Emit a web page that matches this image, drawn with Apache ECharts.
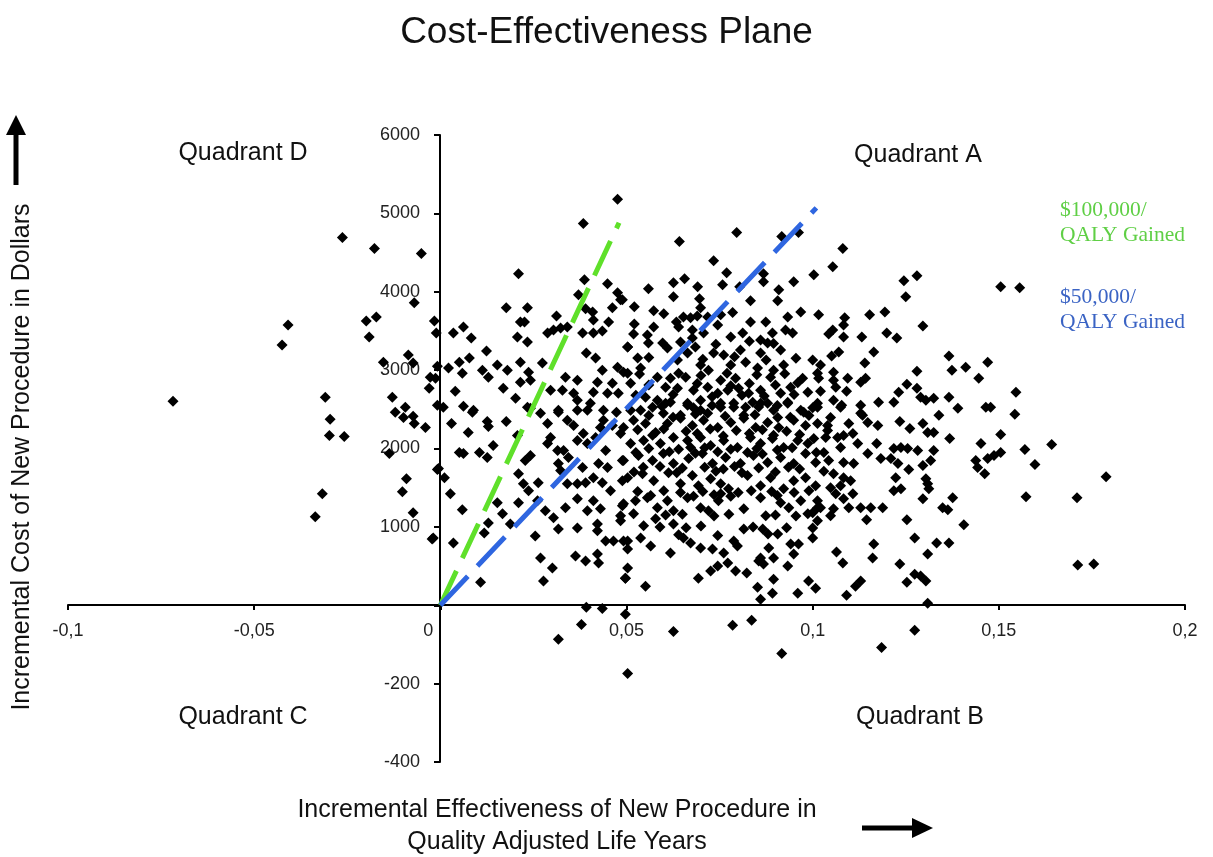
<!DOCTYPE html>
<html>
<head>
<meta charset="utf-8">
<script src="https://cdn.jsdelivr.net/npm/echarts@6/dist/echarts.min.js"></script>
<style>html,body{margin:0;padding:0;background:#fff}#c{width:1213px;height:857px}</style>
</head>
<body>
<div id="c"></div>
<script>
// x tick labels (comma decimal as in source)
const xTicks = [-0.1, -0.05, 0, 0.05, 0.1, 0.15, 0.2];
const yTickLabels = [6000, 5000, 4000, 3000, 2000, 1000, 0, -200, -400];

// Willingness-to-pay threshold lines [effect, cost]
const wtp100k = [[0, 0], [0.048, 4880]];
const wtp50k = [[0, 0], [0.101, 5070]];

// Simulation points [incremental effect (QALY), incremental cost ($)]
const pointsQuadD = [
[-0.0718,2603],[-0.0263,4692],[-0.0177,4551],[-0.0051,4487],[-0.0409,3577],[-0.0425,3320],[-0.0199,3628],[-0.0172,3679],[-0.0191,3423],[-0.0070,3859],[-0.0016,3628],[-0.0011,3474],[-0.0086,3192],[-0.0153,3102],[-0.0073,3090],[-0.0008,3051],[-0.0027,2910],[-0.0013,2897],[-0.0030,2769],[-0.0309,2654],[-0.0129,2654],[-0.0008,2551],[-0.0121,2461],[-0.0094,2526],[-0.0099,2397],[-0.0073,2410],[-0.0070,2320],[-0.0040,2269],[-0.0296,2372],[-0.0298,2167],[-0.0258,2154],[-0.0137,1936],[-0.0008,1731],[-0.0091,1615],[-0.0102,1449],[-0.0317,1423],[-0.0336,1128],[-0.0073,1179],[-0.0022,846],[-0.0005,1744],[-0.0019,859]
];
const pointsNearUpper = [
[0.0476,5179],[0.0384,4872],[0.0210,4231],[0.0387,4154],[0.0449,4102],[0.0371,3962],[0.0476,3987],[0.0484,3897],[0.0177,3795],[0.0234,3795],[0.0390,3782],[0.0409,3743],[0.0462,3795],[0.0312,3692],[0.0215,3615],[0.0226,3615],[0.0411,3641],[0.0452,3615],[0.0062,3551],[0.0288,3474],[0.0304,3513],[0.0323,3538],[0.0341,3551],[0.0382,3474],[0.0035,3474],[0.0083,3410],[0.0411,3474],[0.0435,3500],[0.0207,3423],[0.0234,3359],[0.0503,3295],[0.0124,3243],[0.0078,3154],[0.0051,3102],[0.0215,3102],[0.0274,3090],[0.0392,3218],[0.0417,3154],[0.0022,3026],[0.0113,3000],[0.0153,3064],[0.0180,3000],[0.0237,2974],[0.0435,3000],[0.0476,3038],[0.0492,2974],[0.0059,2961],[0.0129,2910],[0.0336,2910],[0.0215,2846],[0.0242,2872],[0.0368,2872],[0.0422,2846],[0.0462,2833],[0.0040,2731],[0.0169,2769],[0.0296,2743],[0.0328,2743],[0.0358,2705],[0.0411,2718],[0.0449,2705],[0.0478,2705],[0.0202,2641],[0.0368,2615],[0.0062,2538],[0.0089,2487],[0.0008,2526],[0.0234,2526],[0.0317,2487],[0.0395,2487],[0.0438,2487],[0.0473,2461],[0.0269,2449]
];
const pointsNearLower = [
[0.0086,2461],[0.0030,2320],[0.0075,2205],[0.0126,2346],[0.0129,2282],[0.0177,2346],[0.0207,2167],[0.0142,2038],[0.0051,1949],[0.0062,1936],[0.0105,1949],[0.0126,1885],[0.0011,1628],[0.0027,1423],[0.0059,1218],[0.0153,1308],[0.0167,1167],[0.0129,1051],[0.0118,923],[0.0188,1038],[0.0035,795],[0.0108,295],[0.0210,1679],[0.0223,1551],[0.0237,1462],[0.0210,1308],[0.0242,1910],[0.0228,1846],[0.0261,1333],[0.0282,1205],[0.0263,1564],[0.0304,1115],[0.0317,974],[0.0255,885],[0.0269,603],[0.0301,474],[0.0277,308],[0.0242,2513],[0.0288,2320],[0.0296,2141],[0.0288,2064],[0.0315,1974],[0.0331,1974],[0.0317,1808],[0.0344,1885],[0.0323,1718],[0.0341,1551],[0.0336,1244],[0.0341,2359],[0.0317,2461],[0.0368,2487],[0.0403,2577],[0.0358,2295],[0.0384,2192],[0.0368,2103],[0.0395,2064],[0.0417,2141],[0.0430,2269],[0.0438,2359],[0.0462,2295],[0.0484,2192],[0.0444,1974],[0.0382,1756],[0.0425,1808],[0.0449,1756],[0.0489,1846],[0.0368,1551],[0.0390,1564],[0.0411,1628],[0.0435,1564],[0.0457,1462],[0.0489,1590],[0.0368,1359],[0.0411,1333],[0.0430,1231],[0.0395,1205],[0.0484,1141],[0.0489,1269],[0.0368,987],[0.0422,1038],[0.0422,949],[0.0444,821],[0.0465,821],[0.0492,821],[0.0503,718],[0.0422,654],[0.0363,628],[0.0390,564],[0.0425,538],[0.0497,346]
];
const pointsCoreUpper = [
[0.0642,4641],[0.0796,4756],[0.0917,4705],[0.0962,4756],[0.0734,4397],[0.0769,4243],[0.0868,4231],[0.0868,4128],[0.0949,4128],[0.1003,4218],[0.0626,4115],[0.0656,4167],[0.0559,4038],[0.0691,4064],[0.0758,4090],[0.0804,4064],[0.0909,4026],[0.0626,3936],[0.0696,3910],[0.0833,3885],[0.0906,3885],[0.0489,3897],[0.0521,3808],[0.0573,3756],[0.0699,3795],[0.0753,3705],[0.0968,3743],[0.1016,3705],[0.0521,3590],[0.0634,3615],[0.0653,3679],[0.0672,3667],[0.0640,3551],[0.0718,3679],[0.0745,3577],[0.0833,3615],[0.0874,3615],[0.0933,3679],[0.0573,3551],[0.0519,3462],[0.0556,3449],[0.0597,3346],[0.0677,3513],[0.0677,3410],[0.0707,3474],[0.0780,3423],[0.0812,3474],[0.0860,3385],[0.0892,3474],[0.0927,3513],[0.0946,3474],[0.0503,3295],[0.0559,3346],[0.0610,3282],[0.0685,3295],[0.0734,3218],[0.0761,3192],[0.0806,3256],[0.0860,3218],[0.0879,3346],[0.0914,3256],[0.1000,3128],[0.0530,3154],[0.0637,3128],[0.0664,3218],[0.0699,3064],[0.0720,3000],[0.0780,3064],[0.0820,3102],[0.0852,3026],[0.0895,3000],[0.0922,3064],[0.0973,2897],[0.1013,2961],[0.0503,2961],[0.0538,3026],[0.0583,2910],[0.0618,2897],[0.0659,2910],[0.0753,2872],[0.0793,2897],[0.0887,2910],[0.0941,2782],[0.0511,2833],[0.0605,2782],[0.0637,2769],[0.0680,2743],[0.0718,2782],[0.0745,2705],[0.0772,2743],[0.0801,2769],[0.0828,2705],[0.0860,2743],[0.0914,2705],[0.0987,2718],[0.0551,2654],[0.0583,2615],[0.0618,2590],[0.0664,2577],[0.0699,2615],[0.0753,2577],[0.0788,2526],[0.0839,2590],[0.0879,2577],[0.0933,2590],[0.0968,2487],[0.1013,2577],[0.0511,2487],[0.0599,2449],[0.0645,2423],[0.0718,2449],[0.0815,2423],[0.0906,2397]
];
const pointsCoreLower = [
[0.0538,2487],[0.0570,2526],[0.0605,2577],[0.0664,2551],[0.0699,2487],[0.0753,2526],[0.0788,2577],[0.0820,2526],[0.0860,2577],[0.0895,2487],[0.0933,2577],[0.0976,2461],[0.1013,2526],
[0.0492,2269],[0.0519,2359],[0.0551,2320],[0.0578,2205],[0.0610,2320],[0.0645,2385],[0.0677,2295],[0.0707,2359],[0.0745,2269],[0.0780,2333],[0.0815,2385],[0.0847,2269],[0.0879,2333],[0.0909,2269],[0.0949,2359],[0.0981,2295],[0.1013,2320],
[0.0511,2064],[0.0546,2103],[0.0591,2064],[0.0626,2141],[0.0664,2103],[0.0672,2013],[0.0699,2141],[0.0726,2038],[0.0761,2103],[0.0798,2013],[0.0833,2141],[0.0860,2064],[0.0892,2128],[0.0922,2013],[0.0960,2103],[0.0987,2064],
[0.0492,1846],[0.0532,1910],[0.0570,1846],[0.0599,1936],[0.0626,1808],[0.0667,1872],[0.0704,1936],[0.0731,1808],[0.0766,1885],[0.0806,1808],[0.0841,1910],[0.0879,1821],[0.0914,1885],[0.0949,1808],[0.0981,1936],[0.1008,1821],
[0.0503,1628],[0.0543,1679],[0.0573,1590],[0.0613,1692],[0.0645,1551],[0.0677,1654],[0.0693,1526],[0.0726,1615],[0.0753,1551],[0.0774,1487],[0.0825,1654],[0.0860,1526],[0.0887,1628],[0.0922,1487],[0.0949,1590],[0.0981,1628],[0.1008,1526],
[0.0492,1295],[0.0524,1333],[0.0556,1372],[0.0583,1244],[0.0610,1333],[0.0626,1205],[0.0664,1372],[0.0699,1244],[0.0720,1205],[0.0747,1333],[0.0753,1423],[0.0815,1231],[0.0860,1372],[0.0874,1141],[0.0914,1308],[0.0936,1244],[0.0968,1333],[0.0987,1167],[0.1013,1244],
[0.0484,1077],[0.0519,1167],[0.0546,1013],[0.0578,1103],[0.0626,1038],[0.0815,974],[0.0866,974],[0.0906,910],[0.1000,859],
[0.0503,821],[0.0538,859],[0.0565,756],[0.0618,667],[0.0653,859],[0.0672,795],[0.0699,731],[0.0731,718],[0.0761,667],[0.0788,821],[0.0798,756],[0.0860,603],[0.0882,731],[0.0895,603],[0.0941,782],[0.0962,782],[0.0949,654],
[0.0503,474],[0.0497,346],[0.0551,244],[0.0693,346],[0.0726,436],[0.0745,500],[0.0772,538],[0.0793,436],[0.0823,410],[0.0855,564],[0.0868,526],[0.0895,333],[0.0933,500],[0.0852,231],[0.0892,154],[0.0860,77],[0.0960,154],[0.0989,308],[0.1008,218]
];
const pointsCoreFill = [
[0.0600,3720],[0.0690,3690],[0.0785,3735],
[0.0645,3360],[0.0740,3330],[0.0830,3370],[0.0895,3340],
[0.0560,3160],[0.0705,3140],[0.0790,3170],[0.0875,3130],[0.0955,3150],
[0.0535,2950],[0.0640,2960],[0.0700,2930],[0.0770,2960],[0.0850,2940],[0.0925,2955],
[0.0560,2810],[0.0690,2830],[0.0780,2800],[0.0830,2830],[0.0900,2810],[0.0960,2840],
[0.0525,2680],[0.0625,2690],[0.0730,2660],[0.0810,2680],[0.0870,2670],[0.0950,2690],
[0.0595,2540],[0.0680,2520],[0.0730,2550],[0.0855,2530],[0.0905,2550],[0.1000,2520],
[0.0560,2420],[0.0625,2400],[0.0685,2440],[0.0765,2410],[0.0845,2430],[0.0940,2400],[0.0990,2420],
[0.0530,2240],[0.0600,2250],[0.0660,2220],[0.0725,2250],[0.0795,2230],[0.0865,2240],[0.0930,2220],[0.1040,2230],
[0.0570,2170],[0.0690,2190],[0.0760,2160],[0.0830,2190],[0.0895,2170],[0.0965,2180],
[0.0560,2000],[0.0640,1990],[0.0710,2010],[0.0780,1990],[0.0850,2000],[0.0905,1980],[0.0945,2010],
[0.0525,1950],[0.0615,1960],[0.0685,1940],[0.0745,1960],[0.0825,1950],[0.0865,1930],[0.1010,1950],
[0.0545,1760],[0.0590,1770],[0.0650,1750],[0.0710,1760],[0.0760,1740],[0.0790,1770],[0.0855,1750],[0.0935,1760],[0.0965,1740],
[0.0520,1700],[0.0635,1690],[0.0740,1710],[0.0810,1690],[0.0900,1700],[0.1030,1710],
[0.0530,1450],[0.0600,1460],[0.0645,1440],[0.0705,1450],[0.0800,1440],[0.0835,1460],[0.0890,1450],[0.0950,1440],[0.0990,1460],
[0.0565,1400],[0.0680,1390],[0.0735,1410],[0.0780,1390],[0.0905,1400],
[0.0605,1150],[0.0650,1160],[0.0735,1140],[0.0775,1160],[0.0900,1150],[0.0955,1140],
[0.0590,1000],[0.0660,990],[0.0700,1010],[0.0840,1000],[0.0930,990],
[0.0640,900],[0.0745,890],[0.0880,910]
];
const pointsRightUpper = [
[0.1081,4551],[0.1054,4320],[0.1245,4141],[0.1280,4205],[0.1250,3936],[0.1505,4064],[0.1556,4051],[0.1153,3705],[0.1194,3743],[0.1086,3667],[0.1083,3577],[0.1054,3513],[0.1043,3462],[0.1083,3423],[0.1132,3423],[0.1199,3474],[0.1226,3410],[0.1296,3564],[0.1070,3231],[0.1051,3179],[0.1164,3231],[0.1021,3064],[0.1140,3090],[0.1366,3179],[0.1411,3038],[0.1470,3102],[0.1056,2974],[0.1016,2897],[0.1094,2897],[0.1129,2846],[0.1142,2897],[0.1056,2872],[0.1280,2987],[0.1374,3000],[0.1446,2897],[0.1021,2731],[0.1091,2731],[0.1062,2782],[0.1231,2718],[0.1253,2820],[0.1280,2769],[0.1290,2654],[0.1304,2615],[0.1325,2641],[0.1366,2654],[0.1056,2615],[0.1075,2526],[0.1129,2551],[0.1177,2590],[0.1218,2590],[0.1339,2423],[0.1390,2513],[0.1465,2526],[0.1478,2526],[0.1048,2397],[0.1129,2449],[0.1078,2551],[0.1546,2718],[0.1543,2436]
];
const pointsRightLower = [
[0.1040,2295],[0.1097,2320],[0.1134,2423],[0.1148,2333],[0.1175,2295],[0.1234,2346],[0.1261,2256],[0.1296,2320],[0.1309,2205],[0.1325,2205],[0.1368,2128],[0.1452,2064],[0.1505,2179],[0.1003,2128],[0.1035,2141],[0.1067,2141],[0.1083,2167],[0.1108,2192],[0.1121,2064],[0.1075,2013],[0.1172,2064],[0.1218,2000],[0.1237,2013],[0.1255,2000],[0.1282,1974],[0.1325,1974],[0.1438,1846],[0.1470,1872],[0.1487,1910],[0.1505,1949],[0.1030,1949],[0.1148,1936],[0.1183,1872],[0.1210,1872],[0.1043,1846],[0.1083,1821],[0.1110,1808],[0.1229,1808],[0.1258,1731],[0.1296,1782],[0.1317,1846],[0.1443,1756],[0.1462,1679],[0.1056,1679],[0.1083,1628],[0.1102,1590],[0.1223,1628],[0.1304,1615],[0.1309,1551],[0.1312,1487],[0.1048,1500],[0.1075,1526],[0.1218,1462],[0.1237,1487],[0.1062,1423],[0.1108,1423],[0.1296,1359],[0.1376,1372],[0.1013,1333],[0.1083,1359],[0.1349,1244],[0.1363,1218],[0.1021,1244],[0.1056,1231],[0.1097,1244],[0.1129,1244],[0.1156,1244],[0.1188,1244],[0.1000,1179],[0.1048,1141],[0.1013,1077],[0.1145,1090],[0.1253,1090],[0.1406,1026],[0.1000,987],[0.1274,859],[0.1333,795],[0.1366,795],[0.1164,782],[0.1064,679],[0.1081,538],[0.1161,603],[0.1309,654],[0.1234,526],[0.1274,397],[0.1290,372],[0.1304,308],[0.1253,295],[0.1129,308],[0.1115,244],[0.1091,128],[0.1309,26],
[0.1570,1987],[0.1642,2051],[0.1597,1795],[0.1788,1641],[0.1573,1385],[0.1710,1372],[0.1712,513],[0.1755,526]
];
const pointsNegative = [
[0.0392,-5],[0.0435,-8],[0.0497,-23],[0.0379,-49],[0.0317,-87],[0.0503,-174],[0.0626,-67],[0.0785,-51],[0.0836,-38],[0.0917,-123],[0.1274,-64],[0.1185,-108]
];

// The source axis uses a compressed scale below zero: 200 $ per major step instead of 1000 $.
const NEG_FACTOR = 5;
const toAxis = c => (c < 0 ? c * NEG_FACTOR : c);
const fromAxis = v => (v < 0 ? v / NEG_FACTOR : v);

const allPoints = [].concat(pointsQuadD, pointsNearUpper, pointsNearLower, pointsCoreUpper, pointsCoreLower, pointsCoreFill, pointsRightUpper, pointsRightLower, pointsNegative)
  .map(p => [p[0], toAxis(p[1])]);

const SANS = '"Liberation Sans", Arial, sans-serif';
const SERIF = '"Liberation Serif", "Times New Roman", serif';

// plot geometry
const G = {left: 68, right: 28, top: 135, bottom: 95};
const W = 1213, H = 857;
const plotW = W - G.left - G.right, plotH = H - G.top - G.bottom;
const xMin = xTicks[0], xMax = xTicks[xTicks.length - 1];
const yMin = -2000, yMax = 6000;
// shift axes so they cross at the origin (like the source)
const xAxisOffset = -Math.round((0 - yMin) / (yMax - yMin) * plotH);
const yAxisOffset = -Math.round((0 - xMin) / (xMax - xMin) * plotW);

const chart = echarts.init(document.getElementById('c'), null, {renderer: 'canvas'});
chart.setOption({
  animation: false,
  backgroundColor: '#fff',
  title: {
    text: 'Cost-Effectiveness Plane',
    left: 'center',
    top: 9,
    textStyle: {fontFamily: SANS, fontSize: 37, fontWeight: 'normal', color: '#111'}
  },
  grid: {left: G.left, right: G.right, top: G.top, bottom: G.bottom, containLabel: false},
  xAxis: {
    type: 'value',
    position: 'bottom',
    offset: xAxisOffset,
    min: xMin,
    max: xMax,
    interval: 0.05,
    splitLine: {show: false},
    axisLine: {show: true, onZero: false, lineStyle: {color: '#000', width: 2}},
    axisTick: {show: true, inside: false, length: 5, lineStyle: {color: '#000', width: 2}},
    axisLabel: {
      margin: 17,
      fontFamily: SANS, fontSize: 18, color: '#222',
      formatter: v => {
        const s = (+v.toFixed(2)).toString().replace('.', ',');
        return Math.abs(v) < 1e-9 ? '{z|0}' : s;
      },
      rich: {z: {fontFamily: SANS, fontSize: 18, color: '#222', padding: [0, 24, 0, 0]}}
    }
  },
  yAxis: {
    type: 'value',
    position: 'left',
    offset: yAxisOffset,
    min: yMin,
    max: yMax,
    interval: 1000,
    splitLine: {show: false},
    axisLine: {show: true, onZero: false, lineStyle: {color: '#000', width: 2}},
    axisTick: {show: true, inside: false, length: 6, lineStyle: {color: '#000', width: 2}},
    axisLabel: {
      margin: 20,
      fontFamily: SANS, fontSize: 18, color: '#222',
      formatter: v => {
        const lab = fromAxis(v);
        return yTickLabels.indexOf(lab) >= 0 && lab !== 0 ? String(lab) : '';
      }
    }
  },
  series: [
    {
      type: 'scatter',
      data: allPoints,
      symbol: 'diamond',
      symbolSize: 11,
      itemStyle: {color: '#000', opacity: 1},
      z: 2
    },
    {
      type: 'line',
      data: wtp100k,
      symbol: 'none',
      lineStyle: {color: '#5fe02a', width: 5, type: [38, 14]},
      z: 3
    },
    {
      type: 'line',
      data: wtp50k,
      symbol: 'none',
      lineStyle: {color: '#2f66e0', width: 5, type: [40, 14]},
      z: 3
    }
  ],
  graphic: [
    {type: 'text', x: 243, y: 153, style: {text: 'Quadrant D', font: '25px ' + SANS, fill: '#111', textAlign: 'center', textVerticalAlign: 'middle'}},
    {type: 'text', x: 918, y: 155, style: {text: 'Quadrant A', font: '25px ' + SANS, fill: '#111', textAlign: 'center', textVerticalAlign: 'middle'}},
    {type: 'text', x: 243, y: 717, style: {text: 'Quadrant C', font: '25px ' + SANS, fill: '#111', textAlign: 'center', textVerticalAlign: 'middle'}},
    {type: 'text', x: 920, y: 717, style: {text: 'Quadrant B', font: '25px ' + SANS, fill: '#111', textAlign: 'center', textVerticalAlign: 'middle'}},
    {type: 'text', x: 1060, y: 198, style: {text: '$100,000/\nQALY Gained', font: '21.5px ' + SERIF, fill: '#5fcf45', lineHeight: 25, textAlign: 'left', textVerticalAlign: 'top'}},
    {type: 'text', x: 1060, y: 285, style: {text: '$50,000/\nQALY Gained', font: '21.5px ' + SERIF, fill: '#3a63c4', lineHeight: 25, textAlign: 'left', textVerticalAlign: 'top'}},
    {type: 'text', x: 557, y: 826, style: {text: 'Incremental Effectiveness of New Procedure in\nQuality Adjusted Life Years', font: '25px ' + SANS, fill: '#111', lineHeight: 32, textAlign: 'center', textVerticalAlign: 'middle'}},
    {type: 'text', x: 22, y: 457, rotation: Math.PI / 2, style: {text: 'Incremental Cost of New Procedure in Dollars', font: '25px ' + SANS, fill: '#111', textAlign: 'center', textVerticalAlign: 'middle'}},
    {type: 'rect', shape: {x: 13.5, y: 133, width: 5, height: 52}, style: {fill: '#000'}},
    {type: 'polygon', shape: {points: [[6, 135], [26, 135], [16, 115]]}, style: {fill: '#000'}},
    {type: 'rect', shape: {x: 862, y: 825.5, width: 52, height: 5}, style: {fill: '#000'}},
    {type: 'polygon', shape: {points: [[912, 818], [912, 838], [933, 828]]}, style: {fill: '#000'}}
  ]
});
</script>
</body>
</html>
